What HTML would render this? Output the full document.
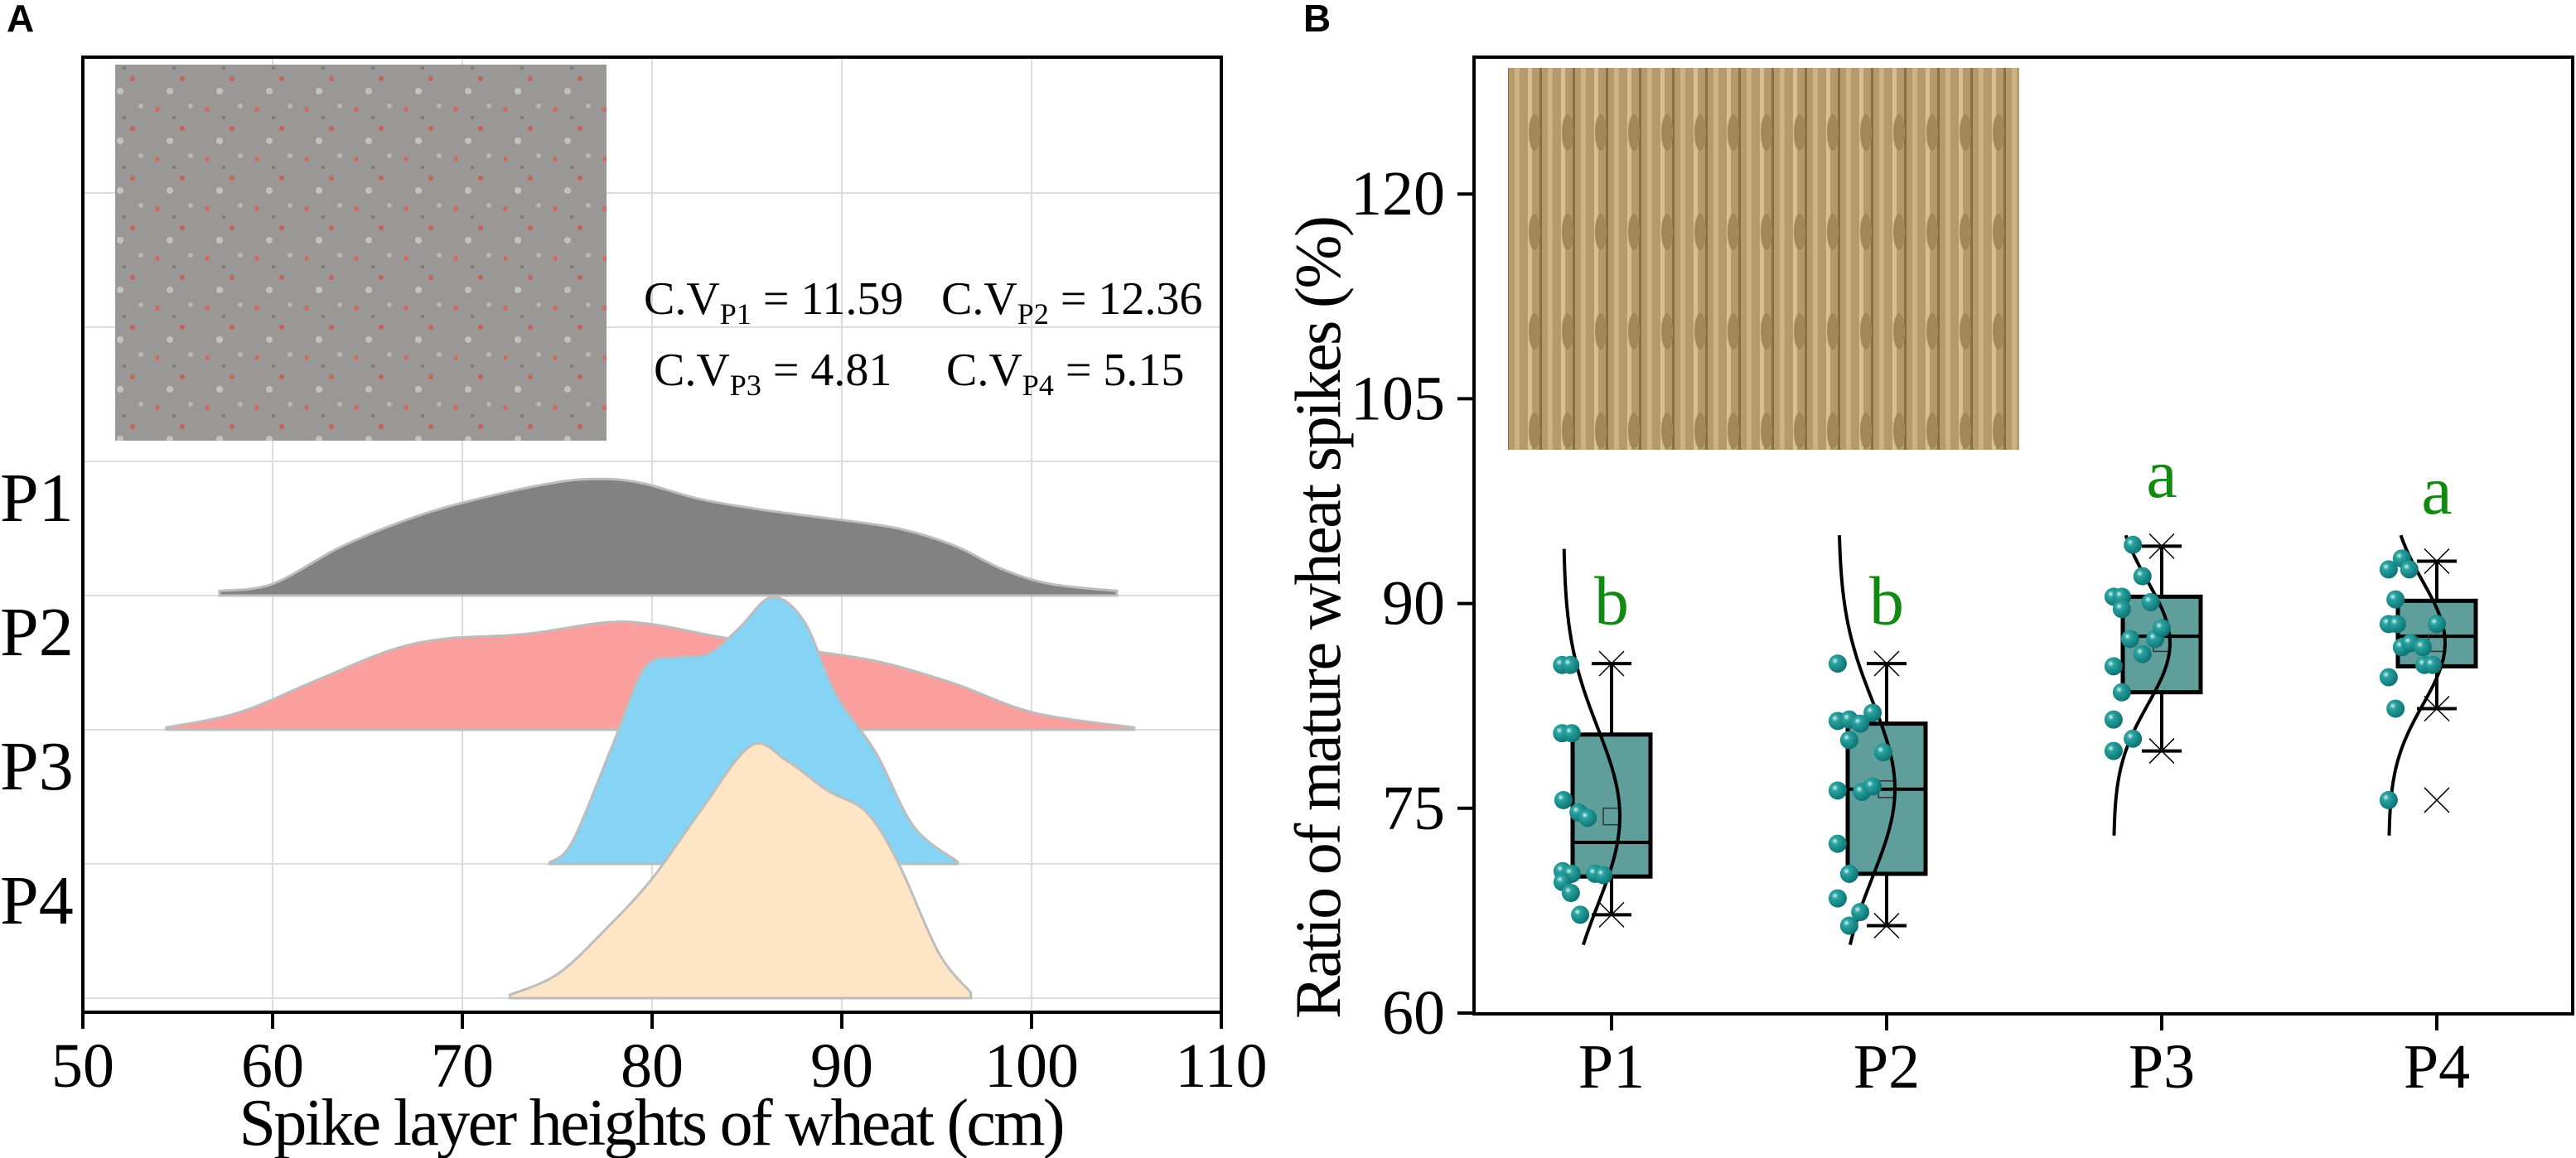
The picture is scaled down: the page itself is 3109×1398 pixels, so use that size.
<!DOCTYPE html>
<html><head><meta charset="utf-8"><style>
html,body{margin:0;padding:0;background:#fff;}
svg{display:block;}
text{font-family:"Liberation Serif",serif;}
</style></head><body>
<svg id="fig" width="3109" height="1398" viewBox="0 0 3109 1398" xmlns="http://www.w3.org/2000/svg">
<defs>
<radialGradient id="ball" cx="0.35" cy="0.35" r="0.7">
<stop offset="0" stop-color="#d8f2f0"/><stop offset="0.25" stop-color="#2aa4a2"/><stop offset="1" stop-color="#0b7070"/>
</radialGradient>
<pattern id="soil" width="60" height="60" patternUnits="userSpaceOnUse">
<rect width="60" height="60" fill="#9a9896"/>
<circle cx="10" cy="12" r="3" fill="#d06a60"/><circle cx="40" cy="35" r="3" fill="#c86058"/>
<circle cx="25" cy="50" r="4" fill="#c4c2be"/><circle cx="50" cy="8" r="3" fill="#b9b7b3"/>
<circle cx="30" cy="22" r="2" fill="#7d7b79"/>
</pattern>
<pattern id="wheat" width="40" height="120" patternUnits="userSpaceOnUse">
<rect width="40" height="120" fill="#b49a6c"/>
<rect x="4" width="5" height="120" fill="#d8c090"/><rect x="18" width="3" height="120" fill="#8a7040"/>
<rect x="28" width="6" height="120" fill="#cfb37e"/><ellipse cx="12" cy="40" rx="7" ry="22" fill="#a08858"/>
</pattern>
</defs>

<!-- Panel A -->
<text x="8" y="38" font-weight="bold" font-size="46" style="font-family:'Liberation Sans',sans-serif">A</text>
<g id="gridA"></g>
<g id="ridges"></g>
<rect x="139" y="78" width="593" height="454" fill="url(#soil)"/>
<g font-size="56">
<text x="777" y="379">C.V<tspan font-size="36" dy="12">P1</tspan><tspan dy="-12"> = 11.59</tspan></text>
<text x="1136" y="379">C.V<tspan font-size="36" dy="12">P2</tspan><tspan dy="-12"> = 12.36</tspan></text>
<text x="789" y="465">C.V<tspan font-size="36" dy="12">P3</tspan><tspan dy="-12"> = 4.81</tspan></text>
<text x="1142" y="465">C.V<tspan font-size="36" dy="12">P4</tspan><tspan dy="-12"> = 5.15</tspan></text>
</g>
<rect x="100" y="69" width="1374" height="1153" fill="none" stroke="#000" stroke-width="4"/>
<g id="axisA"></g>
<text x="787" y="1382" text-anchor="middle" font-size="80" textLength="997">Spike layer heights of wheat (cm)</text>

<!-- Panel B -->
<text x="1573" y="38" font-weight="bold" font-size="46" style="font-family:'Liberation Sans',sans-serif">B</text>
<rect x="1820" y="82" width="617" height="461" fill="url(#wheat)"/>
<g id="plotB"></g>
<rect x="1779" y="69" width="1326" height="1155" fill="none" stroke="#000" stroke-width="4"/>
<g id="axisB"></g>
<text transform="translate(1617,745) rotate(-90)" text-anchor="middle" font-size="78" textLength="970">Ratio of mature wheat spikes (%)</text>
</svg>
<script>
// ---- Panel A data ----
const ridgeNames = ["P1","P2","P3","P4"];
const ridgeColors = ["#828282","#fa9e9e","#86d4f5","#fde5c6"];
const xTicksA = [50,60,70,80,90,100,110];
const p1X = [57.2,60,63.6,67.4,70.8,75,77.5,79.6,82.5,85.9,89.7,93,95.9,98.5,101,104.5];
const p1D = [.0016,.0040,.0168,.0269,.0333,.0391,.0402,.0386,.0333,.0295,.0263,.0231,.0173,.0090,.0040,.0016];
const p2X = [54.4,58.2,62.4,66.2,69.1,73.3,77.5,80,83.4,87.6,91.8,95.9,100.1,105.4];
const p2D = [.0008,.0059,.0173,.0274,.0314,.0330,.0370,.0364,.0322,.0279,.0237,.0160,.0059,.0008];
const p3X = [74.6,75.8,77.9,79.6,81.3,83,84.6,86.3,88,89.7,91.8,93.8,96.1];
const p3D = [.0005,.0077,.0407,.0676,.0713,.0726,.0814,.0920,.0838,.0585,.0383,.0128,.0008];
const p4X = [72.5,75,77.5,80,82.5,85.2,87.1,89.2,91.3,93,95.1,96.8];
const p4D = [.0011,.0082,.0234,.0412,.0641,.0870,.0819,.0718,.0641,.0463,.0157,.0019];

// ---- Panel B data ----
const groups = ["P1","P2","P3","P4"];
const yTicksB = [60,75,90,105,120];
const q1 = [70.0,70.2,83.5,85.4];
const q3 = [80.4,81.2,90.5,90.2];
const med = [72.5,76.4,87.6,87.6];
const whiskLo = [67.2,66.4,79.2,82.3];
const whiskHi = [85.6,85.6,94.2,93.1];
const means = [74.4,76.4,87.1,87.1];
const outliers = [[],[],[],[75.6]];
const letters = ["b","b","a","a"];
const letterY = [88.5,88.5,97.8,96.6];
const sdCurve = [6.5,6.4,4.5,4.5];
const curveLo = [65,65,72.6,72.8];
const curveHi = [94,95,95,95];
const ptsP1 = [85.5,85.5,80.5,80.5,75.6,74.7,74.3,70.4,70.2,69.6,68.8,67.2,70.2,70.1];
const jitP1 = [-.18,-.15,-.18,-.145,-.175,-.12,-.087,-.178,-.145,-.178,-.148,-.114,-.06,-.03];
const ptsP2 = [85.6,81.4,81.5,81.2,82.0,80.0,79.1,76.3,76.2,76.6,72.4,70.2,68.4,67.4,66.4];
const jitP2 = [-.178,-.178,-.136,-.096,-.051,-.136,-.012,-.178,-.09,-.051,-.178,-.136,-.178,-.096,-.136];
const ptsP3 = [94.3,90.5,90.5,92.0,90.1,89.6,87.4,87.4,88.2,86.3,85.4,83.5,81.5,80.1,79.2];
const jitP3 = [-.105,-.175,-.145,-.07,-.04,-.145,-.115,-.024,0,-.07,-.175,-.145,-.175,-.105,-.175];
const ptsP4 = [92.5,93.3,92.5,90.3,88.5,88.5,88.5,86.8,87.1,86.8,85.5,85.5,84.6,82.3,75.6];
const jitP4 = [-.175,-.127,-.1,-.15,-.175,-.145,0,-.127,-.096,-.051,-.045,-.015,-.175,-.15,-.175];

const NS="http://www.w3.org/2000/svg";
function mk(tag,attrs,parent){const e=document.createElementNS(NS,tag);for(const k in attrs)e.setAttribute(k,attrs[k]);parent.appendChild(e);return e;}

const xA = v => 100 + (v-50)*(1374/60);
const rowBase = i => 719 + i*162;
const dScale = d => d*3500;
const gA=document.getElementById('gridA');
xTicksA.forEach(t=>{const l=mk('line',{x1:xA(t),x2:xA(t),y1:69,y2:1222,stroke:'#dcdcdc','stroke-width':2},gA);

});
for(let k=-3;k<=3;k++){const y=rowBase(0)+k*162; if(y<69||y>1222)continue;
const l=mk('line',{x1:100,x2:1474,y1:y,y2:y,stroke:'#dcdcdc','stroke-width':2},gA);

}

function smooth(pts){let d=`M${pts[0][0]},${pts[0][1]}`;
for(let i=0;i<pts.length-1;i++){const p0=pts[Math.max(0,i-1)],p1=pts[i],p2=pts[i+1],p3=pts[Math.min(pts.length-1,i+2)];
const c1=[p1[0]+(p2[0]-p0[0])/6,p1[1]+(p2[1]-p0[1])/6],c2=[p2[0]-(p3[0]-p1[0])/6,p2[1]-(p3[1]-p1[1])/6];
d+=` C${c1[0]},${c1[1]} ${c2[0]},${c2[1]} ${p2[0]},${p2[1]}`;}return d;}

const ridgesX=[p1X,p2X,p3X,p4X], ridgesD=[p1D,p2D,p3D,p4D];
const gR=document.getElementById('ridges');
ridgeNames.forEach((n,i)=>{const b=rowBase(i);
const pts=ridgesX[i].map((x,j)=>[xA(x),b-dScale(ridgesD[i][j])]);
const d=smooth(pts)+` L${pts[pts.length-1][0]},${b} L${pts[0][0]},${b} Z`;
const p=mk('path',{d:d,fill:ridgeColors[i],stroke:'#bdbdbd','stroke-width':3},gR);


const t=mk('text',{x:0,y:b-90,'font-size':84},gR);t.textContent=n;


});
const axA=document.getElementById('axisA');
xTicksA.forEach(t=>{const l=mk('line',{x1:xA(t),x2:xA(t),y1:1222,y2:1242,stroke:'#000','stroke-width':4},axA);


const tx=mk('text',{x:xA(t),y:1312,'text-anchor':'middle','font-size':76},axA);tx.textContent=t;

});

const yB = v => 1223 - (v-60)*16.48;
const xB = i => 1945 + i*332;
const band = 332;
const axB=document.getElementById('axisB');
yTicksB.forEach(t=>{const l=mk('line',{x1:1759,x2:1779,y1:yB(t),y2:yB(t),stroke:'#000','stroke-width':4},axB);


const tx=mk('text',{x:1744,y:yB(t)+25,'text-anchor':'end','font-size':76},axB);tx.textContent=t;

});
groups.forEach((g,i)=>{const l=mk('line',{x1:xB(i),x2:xB(i),y1:1224,y2:1244,stroke:'#000','stroke-width':4},axB);


const tx=mk('text',{x:xB(i),y:1313,'text-anchor':'middle','font-size':76},axB);tx.textContent=g;

});

const gB=document.getElementById('plotB');
const allPts=[ptsP1,ptsP2,ptsP3,ptsP4], allJit=[jitP1,jitP2,jitP3,jitP4];
function cross(cx,cy,parent,name){const s=15;
const g=mk('g',{stroke:'#000','stroke-width':1.5},parent);


mk('line',{x1:cx-s,y1:cy-s,x2:cx+s,y2:cy+s},g);mk('line',{x1:cx-s,y1:cy+s,x2:cx+s,y2:cy-s},g);}
groups.forEach((g,i)=>{const cx=xB(i);
const grp=mk('g',{},gB);


mk('line',{x1:cx,x2:cx,y1:yB(whiskHi[i]),y2:yB(q3[i]),stroke:'#000','stroke-width':4},grp);
mk('line',{x1:cx,x2:cx,y1:yB(q1[i]),y2:yB(whiskLo[i]),stroke:'#000','stroke-width':4},grp);
[whiskHi[i],whiskLo[i]].forEach(v=>{mk('line',{x1:cx-24,x2:cx+24,y1:yB(v),y2:yB(v),stroke:'#000','stroke-width':4},grp);cross(cx,yB(v),grp,'whisker-end-marker');});
const box=mk('rect',{x:cx-47,y:yB(q3[i]),width:94,height:yB(q1[i])-yB(q3[i]),fill:'#5f9e9b',stroke:'#000','stroke-width':5},grp);


mk('line',{x1:cx-47,x2:cx+47,y1:yB(med[i]),y2:yB(med[i]),stroke:'#000','stroke-width':4},grp);
const ms=mk('rect',{x:cx-10,y:yB(means[i])-10,width:20,height:20,fill:'none',stroke:'#333','stroke-width':1.5},grp);


outliers[i].forEach(v=>cross(cx,yB(v),grp,'outlier-marker'));
const m=means[i], sd=sdCurve[i]; const cp=[];
for(let v=curveHi[i]; v>=curveLo[i]-0.01; v-=0.5){cp.push(`${cx-58+68*Math.exp(-((v-m)**2)/(2*sd*sd))},${yB(v)}`);}
const pl=mk('polyline',{points:cp.join(' '),fill:'none',stroke:'#000','stroke-width':4},grp);


allPts[i].forEach((v,j)=>{const c=mk('circle',{cx:cx+allJit[i][j]*band,cy:yB(v),r:11,fill:'url(#ball)'},grp);

});
const lt=mk('text',{x:cx,y:yB(letterY[i]),'text-anchor':'middle','font-size':84,fill:'#128a12'},grp);lt.textContent=letters[i];


});
</script>
</body></html>
